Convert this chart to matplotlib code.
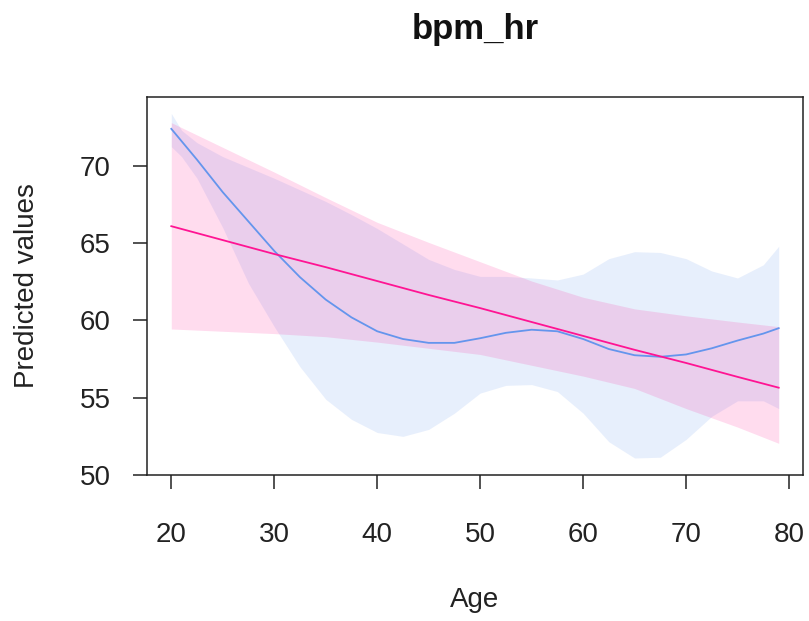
import matplotlib
matplotlib.use("Agg")
import matplotlib.pyplot as plt

plt.rcParams['font.family'] = ['Liberation Sans', 'DejaVu Sans']

# spline model: predicted bpm_hr by age with confidence band
spline_age = [20, 21, 22.5, 25, 27.5, 30, 32.5, 35, 37.5, 40, 42.5, 45, 47.5,
              50, 52.5, 55, 57.5, 60, 62.5, 65, 67.5, 70, 72.5, 75, 77.5, 79]
spline_fit = [72.4, 71.6, 70.4, 68.3, 66.4, 64.5, 62.8, 61.35, 60.2, 59.3, 58.8,
              58.55, 58.55, 58.85, 59.2, 59.4, 59.3, 58.8, 58.15, 57.75, 57.65,
              57.8, 58.2, 58.7, 59.15, 59.5]
spline_upper = [73.4, 72.3, 71.5, 70.6, 69.9, 69.2, 68.45, 67.7, 66.85, 65.95,
                64.95, 63.95, 63.3, 62.85, 62.85, 62.75, 62.62, 63.0, 64.0, 64.45,
                64.4, 64.0, 63.2, 62.75, 63.6, 64.8]
spline_lower = [71.25, 70.6, 69.2, 66.0, 62.4, 59.6, 57.0, 54.9, 53.6, 52.75,
                52.5, 52.95, 54.0, 55.3, 55.8, 55.85, 55.4, 54.0, 52.15, 51.1,
                51.15, 52.3, 53.8, 54.8, 54.8, 54.3]

# linear model
lin_age = [20, 25, 30, 35, 40, 45, 50, 55, 60, 65, 70, 75, 79]
lin_fit = [66.1, 65.2, 64.3, 63.45, 62.55, 61.65, 60.8, 59.9, 59.0, 58.1,
           57.25, 56.35, 55.65]
lin_upper = [72.8, 71.2, 69.6, 67.95, 66.35, 65.05, 63.8, 62.55, 61.5, 60.75,
             60.3, 59.9, 59.6]
lin_lower = [59.45, 59.3, 59.15, 58.95, 58.6, 58.2, 57.8, 57.1, 56.4, 55.6,
             54.3, 53.1, 52.05]

x_ticks = [20, 30, 40, 50, 60, 70, 80]
y_ticks = [50, 55, 60, 65, 70]

blue = '#6495ED'
pink = '#FF1493'

fig = plt.figure(figsize=(8.09, 6.21), dpi=100)
ax = fig.add_axes([147 / 809, 1 - 475 / 621, 656 / 809, 378 / 621])

ax.fill_between(spline_age, spline_lower, spline_upper, color=blue, alpha=0.15, lw=0)
ax.fill_between(lin_age, lin_lower, lin_upper, color=pink, alpha=0.15, lw=0)
ax.plot(spline_age, spline_fit, color=blue, lw=1.3)
ax.plot(lin_age, lin_fit, color=pink, lw=1.3)

ax.set_xlim(17.64, 81.36)
ax.set_ylim(50, 74.46)
ax.set_xticks(x_ticks)
ax.set_yticks(y_ticks)
ax.tick_params(axis='both', direction='out', length=10, width=1.1,
               labelsize=20, color='#222222', labelcolor='#222222')
ax.tick_params(axis='x', pad=24)
ax.tick_params(axis='y', pad=16)
for s in ax.spines.values():
    s.set_linewidth(1.1)
    s.set_color('#222222')

fig.text(475 / 809, 1 - 30 / 621, 'bpm_hr', ha='center', va='center',
         fontsize=25, fontweight='bold', color='#111111')
fig.text(475 / 809, 1 - 600 / 621, 'Age', ha='center', va='center',
         fontsize=20, color='#222222')
fig.text(27 / 809, 1 - 286 / 621, 'Predicted values', ha='center', va='center',
         rotation=90, fontsize=20, color='#222222')

fig.savefig('out.png', dpi=100)
